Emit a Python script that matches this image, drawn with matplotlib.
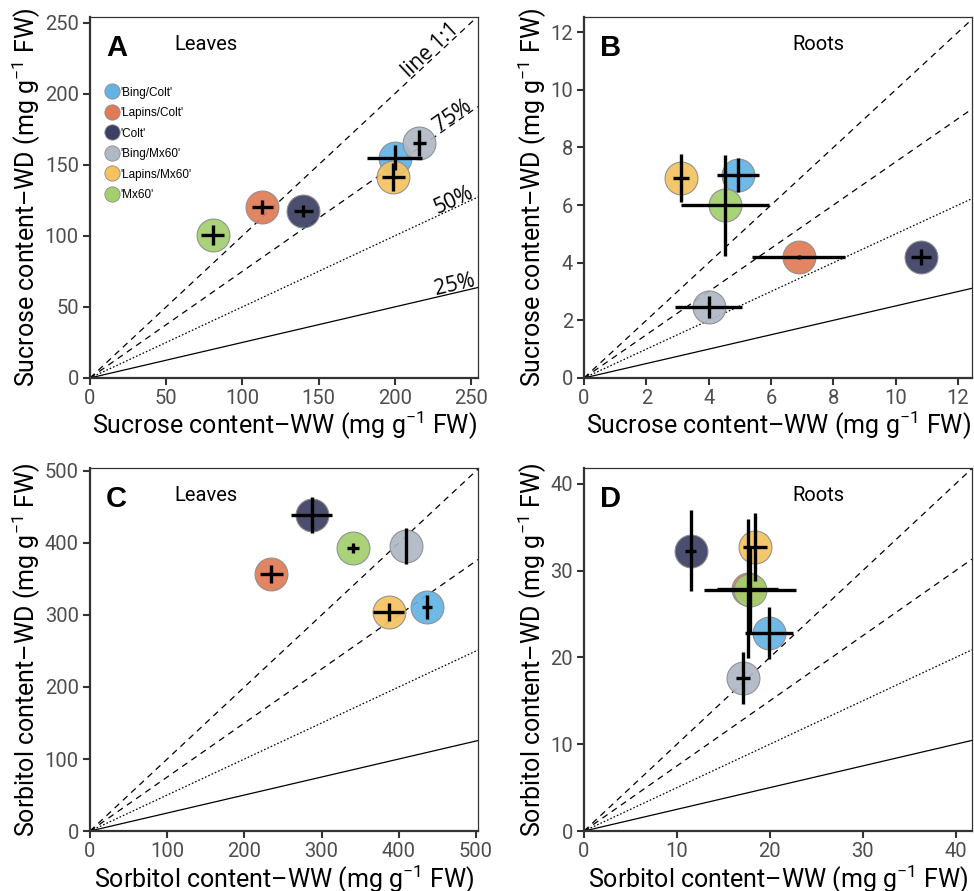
import numpy as np
import matplotlib
matplotlib.use("Agg")
import matplotlib.pyplot as plt
from matplotlib.lines import Line2D

plt.rcParams['font.family'] = ['Roboto', 'DejaVu Sans']
plt.rcParams['mathtext.fontset'] = 'custom'
plt.rcParams['mathtext.rm'] = 'Roboto'
plt.rcParams['mathtext.default'] = 'rm'

# genotypes (legend order)
genotypes = ["'Bing/Colt'", "'Lapins/Colt'", "'Colt'", "'Bing/Mx60'", "'Lapins/Mx60'", "'Mx60'"]
colors = ['#63B3E4', '#E07B55', '#3B3F63', '#AFB8C5', '#F4C35F', '#A3CF6C']

# A: sucrose, leaves
sucL_ww = [200, 113, 140, 216, 199, 80.5]
sucL_ww_err = [18, 7, 6, 4.3, 7.5, 7.7]
sucL_wd = [155, 120.5, 117.5, 165.5, 141.5, 100.5]
sucL_wd_err = [9, 5, 4, 9, 10, 7]

# B: sucrose, roots
sucR_ww = [4.94, 6.89, 10.8, 4.0, 3.11, 4.52]
sucR_ww_err = [0.66, 1.49, 0.32, 1.07, 0.26, 1.41]
sucR_wd = [7.05, 4.2, 4.2, 2.47, 6.94, 6.0]
sucR_wd_err = [0.59, 0.07, 0.28, 0.38, 0.83, 1.75]

# C: sorbitol, leaves
sorL_ww = [437, 235, 287, 409.5, 387, 341]
sorL_ww_err = [6.5, 15, 27, 1.5, 20, 8]
sorL_wd = [311, 357, 439, 396, 304, 393]
sorL_wd_err = [17, 13, 25, 25, 12, 7]

# D: sorbitol, roots
sorR_ww = [19.9, 17.6, 11.5, 17.1, 18.4, 17.85]
sorR_ww_err = [2.6, 3.3, 0.6, 0.8, 1.3, 4.95]
sorR_wd = [22.8, 27.9, 32.3, 17.6, 32.7, 27.7]
sorR_wd_err = [3.0, 8.0, 4.67, 3.0, 3.9, 5.0]

ratios = [1.0, 0.75, 0.5, 0.25]
ratio_styles = [(0, (5, 4)), (0, (5, 4)), (0, (1.3, 1.6)), '-']
ratio_labels = ['line 1:1', '75%', '50%', '25%']
ratio_label_x = [226, 240, 240, 240]

panels = [
    dict(letter='A', tissue='Leaves', x=sucL_ww, xe=sucL_ww_err, y=sucL_wd, ye=sucL_wd_err,
         lim=254.6, ylim=254, ticks=np.arange(0, 251, 50), sugar='Sucrose',
         rect=[0.0924, 0.5758, 0.3984, 0.4052], tissue_x=0.30),
    dict(letter='B', tissue='Roots', x=sucR_ww, xe=sucR_ww_err, y=sucR_wd, ye=sucR_wd_err,
         lim=12.45, ylim=12.53, ticks=np.arange(0, 13, 2), sugar='Sucrose',
         rect=[0.5996, 0.5758, 0.3984, 0.4052], tissue_x=0.603),
    dict(letter='C', tissue='Leaves', x=sorL_ww, xe=sorL_ww_err, y=sorL_wd, ye=sorL_wd_err,
         lim=502.6, ylim=504, ticks=np.arange(0, 501, 100), sugar='Sorbitol',
         rect=[0.0924, 0.0673, 0.3984, 0.4074], tissue_x=0.30),
    dict(letter='D', tissue='Roots', x=sorR_ww, xe=sorR_ww_err, y=sorR_wd, ye=sorR_wd_err,
         lim=41.75, ylim=41.8, ticks=np.arange(0, 41, 10), sugar='Sorbitol',
         rect=[0.5996, 0.0673, 0.3984, 0.4074], tissue_x=0.603),
]

fig = plt.figure(figsize=(9.74, 8.91), dpi=100)

for p in panels:
    ax = fig.add_axes(p['rect'])
    ax.set_xlim(0, p['lim'])
    ax.set_ylim(0, p['ylim'])

    # reference lines through the origin
    for r, ls in zip(ratios, ratio_styles):
        ax.axline((0, 0), slope=r, color='black', lw=0.9, ls=ls, zorder=1)

    for i in range(len(genotypes)):
        ax.scatter(p['x'][i], p['y'][i], s=560, color=colors[i], edgecolors='#8C8C8C',
                   linewidths=0.8, alpha=0.92, zorder=2 + i * 0.01)
    ax.errorbar(p['x'], p['y'], xerr=p['xe'], yerr=p['ye'], fmt='none',
                ecolor='black', elinewidth=2.4, capsize=0, zorder=5)

    ax.set_xticks(p['ticks'])
    ax.set_yticks(p['ticks'])
    ax.tick_params(direction='out', length=5, width=1.5, color='#333333',
                   labelsize=14.5, labelcolor='#4D4D4D', pad=3)
    for side in ['left', 'bottom']:
        ax.spines[side].set_linewidth(1.6)
        ax.spines[side].set_color('#333333')
    for side in ['top', 'right']:
        ax.spines[side].set_linewidth(0.9)
        ax.spines[side].set_color('#333333')

    ax.set_xlabel(p['sugar'] + ' content\u2013WW (mg g$^{-1}$ FW)', fontsize=18, labelpad=1)
    ax.set_ylabel(p['sugar'] + ' content\u2013WD (mg g$^{-1}$ FW)', fontsize=18, labelpad=1)

    ax.text(0.068, 0.915, p['letter'], transform=ax.transAxes, fontsize=21,
            fontweight='bold', family=['Liberation Sans', 'DejaVu Sans'],
            ha='center', va='center')
    ax.text(p['tissue_x'], 0.925, p['tissue'], transform=ax.transAxes, fontsize=14.5,
            ha='center', va='center')

    if p['letter'] == 'A':
        # labels of the reference lines, sitting on the lines
        for r, lab, tx in zip(ratios, ratio_labels, ratio_label_x):
            ax.text(tx, r * tx + 1.5, lab, rotation=np.degrees(np.arctan(r)),
                    transform_rotates_text=True, rotation_mode='anchor',
                    ha='center', va='baseline', fontsize=15,
                    family=['Open Sans', 'DejaVu Sans'], zorder=6)
        handles = [Line2D([], [], ls='none', marker='o', markersize=11,
                          markerfacecolor=c, markeredgecolor='#8C8C8C',
                          markeredgewidth=0.6) for c in colors]
        ax.legend(handles, genotypes, loc='upper left', bbox_to_anchor=(0.015, 0.83),
                  frameon=False, handletextpad=0.05, labelspacing=0.72,
                  borderaxespad=0.3, handlelength=1.3,
                  prop={'family': ['Liberation Sans', 'DejaVu Sans'], 'size': 8.5})

fig.savefig('out.png', dpi=100)
